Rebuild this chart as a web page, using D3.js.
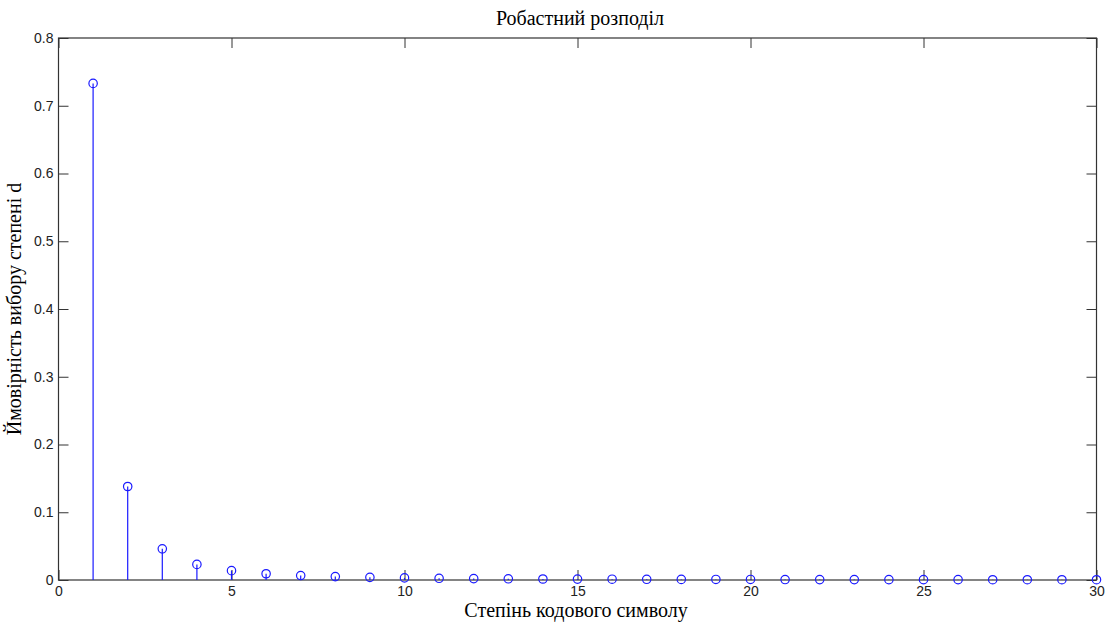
<!DOCTYPE html>
<html>
<head>
<meta charset="utf-8">
<script src="https://cdn.jsdelivr.net/npm/d3@7"></script>
<style>
  body { margin: 0; background: #fff; }
  .tick text { font-family: Arial, "Liberation Sans", sans-serif; font-size: 14px; fill: #222; }
  .lbl { font-family: "Times New Roman", "Liberation Serif", serif; font-size: 20px; fill: #000; }
</style>
</head>
<body>
<div id="chart"></div>
<script>
// degrees 1..30 and probabilities
const degrees = d3.range(1, 31);
const probs = [0.733, 0.138, 0.046, 0.023, 0.0138, 0.0092, 0.0066, 0.0050, 0.0039, 0.0031,
               0.0025, 0.0021, 0.0018, 0.0015, 0.0013, 0.0012, 0.0010, 0.0009, 0.0008, 0.0008,
               0.0007, 0.0006, 0.0006, 0.0005, 0.0005, 0.0005, 0.0004, 0.0004, 0.0004, 0.0004];
const xTicks = [0, 5, 10, 15, 20, 25, 30];
const yTicks = [0, 0.1, 0.2, 0.3, 0.4, 0.5, 0.6, 0.7, 0.8];

const svgWidth = 1109, svgHeight = 625;
const margin = { top: 38, right: 12, bottom: 45, left: 58.5 };
const width = 1096.5 - margin.left;
const height = 580 - margin.top;

const svg = d3.select("#chart").append("svg")
    .attr("width", svgWidth)
    .attr("height", svgHeight);

const chart = svg.append("g")
    .attr("transform", `translate(${margin.left},${margin.top})`);

const x = d3.scaleLinear().domain([0, 30]).range([0, width]);
const y = d3.scaleLinear().domain([0, 0.8]).range([height, 0]);

const fmt = d => d3.format("")(+d.toFixed(1));

// axes with inward ticks, MATLAB style box
chart.append("g")
    .attr("transform", `translate(0,${height})`)
    .call(d3.axisBottom(x).tickValues(xTicks).tickSize(-10).tickPadding(6).tickFormat(d3.format("d")))
    .call(g => g.select(".domain").remove());
chart.append("g")
    .call(d3.axisTop(x).tickValues(xTicks).tickSize(-10).tickFormat(""))
    .call(g => g.select(".domain").remove());
chart.append("g")
    .call(d3.axisLeft(y).tickValues(yTicks).tickSize(-10).tickPadding(5).tickFormat(fmt))
    .call(g => g.select(".domain").remove());
chart.append("g")
    .attr("transform", `translate(${width},0)`)
    .call(d3.axisRight(y).tickValues(yTicks).tickSize(-10).tickFormat(""))
    .call(g => g.select(".domain").remove());

chart.selectAll(".tick line").attr("stroke", "#333");

chart.append("rect")
    .attr("width", width)
    .attr("height", height)
    .attr("fill", "none")
    .attr("stroke", "#333")
    .attr("stroke-width", 1.2);

// stems
chart.append("g").selectAll("line")
    .data(degrees)
    .join("line")
    .attr("x1", (d) => x(d))
    .attr("x2", (d) => x(d))
    .attr("y1", y(0))
    .attr("y2", (d, i) => y(probs[i]))
    .attr("stroke", "#1a1aff")
    .attr("stroke-width", 1.2);

chart.append("g").selectAll("circle")
    .data(degrees)
    .join("circle")
    .attr("cx", (d) => x(d))
    .attr("cy", (d, i) => y(probs[i]))
    .attr("r", 4.2)
    .attr("fill", "none")
    .attr("stroke", "#1a1aff")
    .attr("stroke-width", 1.2);

// labels
svg.append("text")
    .attr("class", "lbl")
    .attr("x", 580)
    .attr("y", 25)
    .attr("text-anchor", "middle")
    .text("Робастний розподіл");

svg.append("text")
    .attr("class", "lbl")
    .attr("x", 576)
    .attr("y", 617)
    .attr("text-anchor", "middle")
    .text("Степінь кодового символу");

svg.append("text")
    .attr("class", "lbl")
    .attr("transform", "translate(21,309) rotate(-90)")
    .attr("text-anchor", "middle")
    .text("Ймовірність вибору степені d");
</script>
</body>
</html>
